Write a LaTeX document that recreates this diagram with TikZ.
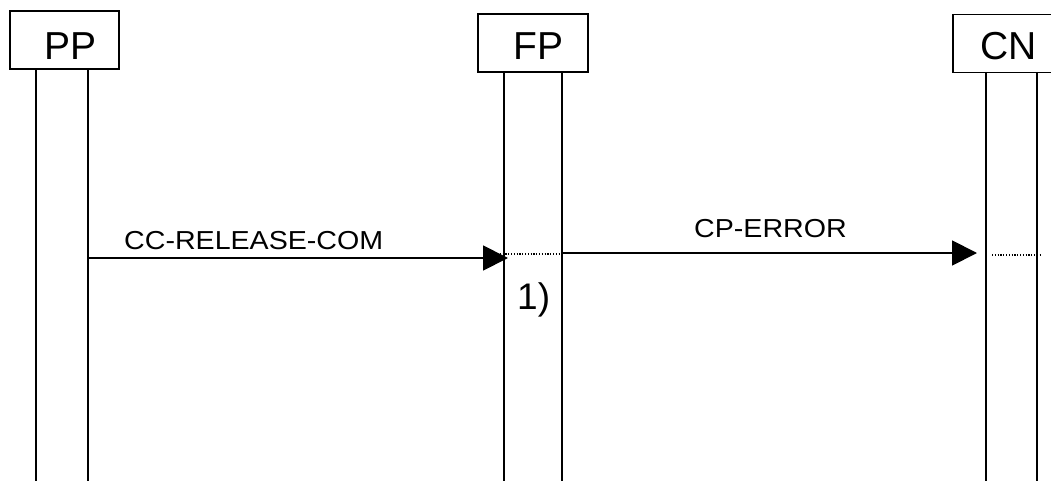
\documentclass[tikz,border=0pt]{standalone}
\usepackage{fontspec}
\setmainfont{Liberation Sans}
\newfontfamily\msgfont[FakeStretch=1.1]{Liberation Sans}
\usetikzlibrary{arrows.meta}
\begin{document}
\begin{tikzpicture}[x=1pt,y=-1pt,
  entbox/.style={draw,line width=1.7pt,minimum width=#1,minimum height=58pt,inner sep=0pt,outer sep=0pt},
  entlabel/.style={anchor=base west,inner sep=0pt,font=\fontsize{39}{43}\selectfont},
  life/.style={line width=1.9pt},
  msg/.style={line width=1.9pt,-{Triangle[length=25pt,width=25pt]}},
  msglabel/.style={anchor=base west,inner sep=0pt,font=\msgfont\fontsize{26}{30}\selectfont},
  dots/.style={line width=1.4pt,dash pattern=on 1.2pt off 1.6pt},
  notelabel/.style={anchor=base west,inner sep=0pt,font=\fontsize{37}{41}\selectfont}]
\useasboundingbox (0,0) rectangle (1051,481);
\fill[white] (0,0) rectangle (1051,481);
% entity boxes
\node[entbox=109pt] (ppbox) at (64.5,40) {};
\node[entbox=110pt] (fpbox) at (533,43) {};
\node[entbox=100pt] (cnbox) at (1003,43.5) {};
\node[entlabel] (pplabel) at (44,59.5) {PP};
\node[entlabel] (fplabel) at (513,59.5) {FP};
\node[entlabel] (cnlabel) at (980,60) {CN};
% lifelines
\coordinate (ppL1) at (36,69);   \coordinate (ppL2) at (36,481);
\coordinate (ppR1) at (88,69);   \coordinate (ppR2) at (88,481);
\coordinate (fpL1) at (504,72);  \coordinate (fpL2) at (504,481);
\coordinate (fpR1) at (562,72);  \coordinate (fpR2) at (562,481);
\coordinate (cnL1) at (986,72);  \coordinate (cnL2) at (986,481);
\coordinate (cnR1) at (1037,72); \coordinate (cnR2) at (1037,481);
\draw[life] (ppL1) -- (ppL2);
\draw[life] (ppR1) -- (ppR2);
\draw[life] (fpL1) -- (fpL2);
\draw[life] (fpR1) -- (fpR2);
\draw[life] (cnL1) -- (cnL2);
\draw[life] (cnR1) -- (cnR2);
% messages
\coordinate (m1s) at (88,258);
\coordinate (m1e) at (508,258);
\draw[msg] (m1s) -- (m1e);
\node[msglabel] (m1label) at (124,249) {CC-RELEASE-COM};
\coordinate (m2s) at (562,253);
\coordinate (m2e) at (977,253);
\draw[msg] (m2s) -- (m2e);
\node[msglabel] (m2label) at (694,237) {CP-ERROR};
% dotted internal lines
\coordinate (d1s) at (497,254);
\coordinate (d1e) at (560,254);
\draw[dots] (d1s) -- (d1e);
\coordinate (d2s) at (992,255);
\coordinate (d2e) at (1040,255);
\draw[dots] (d2s) -- (d2e);
% note
\node[notelabel] (note) at (517,309) {1)};
\end{tikzpicture}
\end{document}
